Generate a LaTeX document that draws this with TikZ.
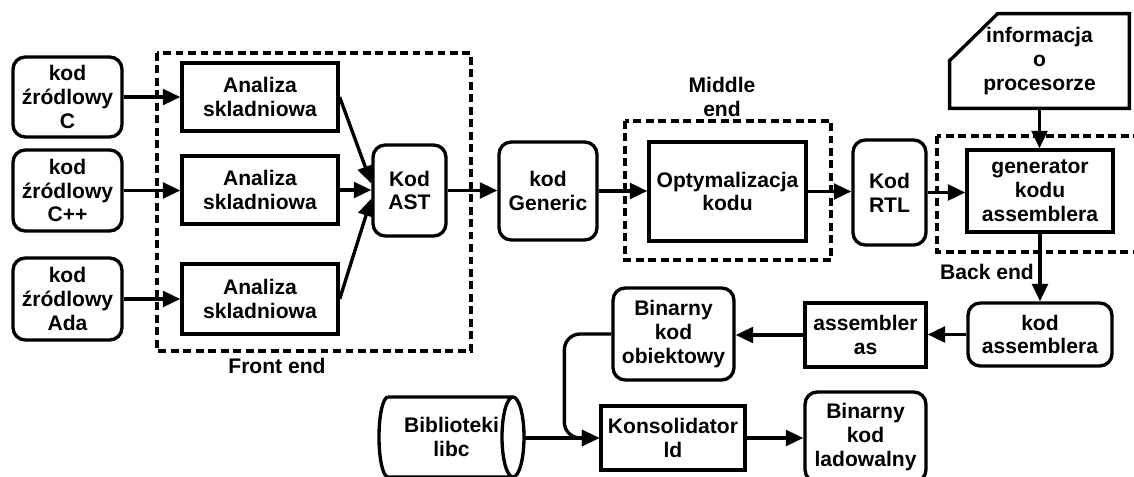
\documentclass[tikz,border=0pt]{standalone}
\usepackage{fontspec}
\setmainfont{Liberation Sans}
\usetikzlibrary{arrows.meta,calc}
% lengths given in drawing units (1 unit = 0.02cm)
\newcommand{\upx}[1]{#1*0.02cm}
\begin{document}
\begin{tikzpicture}[x=0.02cm,y=-0.02cm,
  font=\fontsize{12}{13.6}\selectfont\bfseries,
  every node/.style={align=center,inner sep=0pt},
  rbox/.style={draw,line width=1.9pt,rounded corners=7pt},
  sbox/.style={draw,line width=1.9pt},
  arr/.style={line width=1.9pt,-{Triangle[length=10pt,width=9pt]}},
  dashbox/.style={line width=1.9pt,dash pattern=on 4.5pt off 2.6pt},
  sz/.style 2 args={minimum width=\upx{#1},minimum height=\upx{#2}}]
\useasboundingbox (0,0) rectangle (1134,477);
\clip (0,0) rectangle (1134,477);

% group frames
\draw[dashbox] (157,53) rectangle (471,351);
\draw[dashbox] (625,121) rectangle (831,260);
\draw[dashbox] (937,136) rectangle (1160,252);
\node (lfront) at (277,366) {Front end};
\node (lmid) at (722,97) {Middle\\end};
\node (lback) at (987,272) {Back end};

% sources
\node[rbox,sz={109}{80}] (srcC) at (67.5,97) {kod\\źródlowy\\C};
\node[rbox,sz={109}{81}] (srcCpp) at (67.5,190.5) {kod\\źródlowy\\C++};
\node[rbox,sz={109}{82}] (srcAda) at (67.5,299) {kod\\źródlowy\\Ada};

% front end
\node[sbox,sz={156}{68}] (an1) at (260,97) {Analiza\\skladniowa};
\node[sbox,sz={156}{68}] (an2) at (260,190) {Analiza\\skladniowa};
\node[sbox,sz={156}{70}] (an3) at (260,299) {Analiza\\skladniowa};
\node[rbox,sz={73}{91}] (ast) at (409.5,190.5) {Kod\\AST};

% middle
\node[rbox,sz={98}{98}] (gen) at (548,191) {kod\\Generic};
\node[sbox,sz={157}{99}] (opt) at (727.5,191.5) {Optymalizacja\\kodu};
\node[rbox,sz={73}{105}] (rtl) at (889.5,192.5) {Kod\\RTL};

% back end
\node[sz={179}{94}] (info) at (1039.5,61) {informacja\\o\\procesorze};
\draw[line width=1.9pt,line join=miter]
  ($(info.north west)+(0,47)$) -- ($(info.north west)+(48,0)$) -- (info.north east)
  -- (info.south east) -- (info.south west) -- cycle;
\node[sbox,sz={146}{82}] (cg) at (1040,191) {generator\\kodu\\assemblera};
\node[rbox,sz={144}{63}] (kasm) at (1040,334.5) {kod\\assemblera};
\node[sbox,sz={121}{64}] (asm) at (865.5,335) {assembler\\as};
\node[rbox,sz={121}{92}] (bobj) at (673.5,334) {Binarny\\kod\\obiektowy};
\node[sbox,sz={144}{64}] (kons) at (673,438) {Konsolidator\\ld};
\node[rbox,sz={121}{90}] (bload) at (865.5,437) {Binarny\\kod\\ladowalny};

% library drum
\node[sz={145}{80}] (lib) at (451.5,437) {Biblioteki\\libc};
\draw[line width=1.9pt]
  (388,397) -- (513,397)
  (388,397) arc[start angle=270,end angle=90,x radius=9,y radius=40] -- (513,477)
  (513,437) ellipse[x radius=11,y radius=40];

% connectors
\draw[arr] (srcC.east) -- (srcC.east -| an1.west);
\draw[arr] (srcCpp.east) -- (srcCpp.east -| an2.west);
\draw[arr] (srcAda.east) -- (srcAda.east -| an3.west);
\draw[arr] (an1.east) -- ($(ast.west)+(0,-7)$);
\draw[arr] (an2.east) -- (an2.east -| ast.west);
\draw[arr] (an3.east) -- ($(ast.west)+(0,8)$);
\draw[arr] (ast.east) -- (ast.east -| gen.west);
\draw[arr] (gen.east) -- (gen.east -| opt.west);
\draw[arr] (opt.east) -- (opt.east -| rtl.west);
\draw[arr] (rtl.east) -- (rtl.east -| cg.west);
\draw[arr] (info.south) -- (info.south |- cg.north);
\draw[arr] (cg.south) -- (cg.south |- kasm.north);
\draw[arr] (kasm.west) -- (kasm.west -| asm.east);
\draw[arr] (asm.west) -- (asm.west -| bobj.east);
\draw[arr,rounded corners=9pt] (bobj.west) -- ++(-47,0) |- (kons.west);
\draw[arr] (524,438) -- (kons.west);
\draw[arr] (kons.east) -- (kons.east -| bload.west);
\end{tikzpicture}
\end{document}
